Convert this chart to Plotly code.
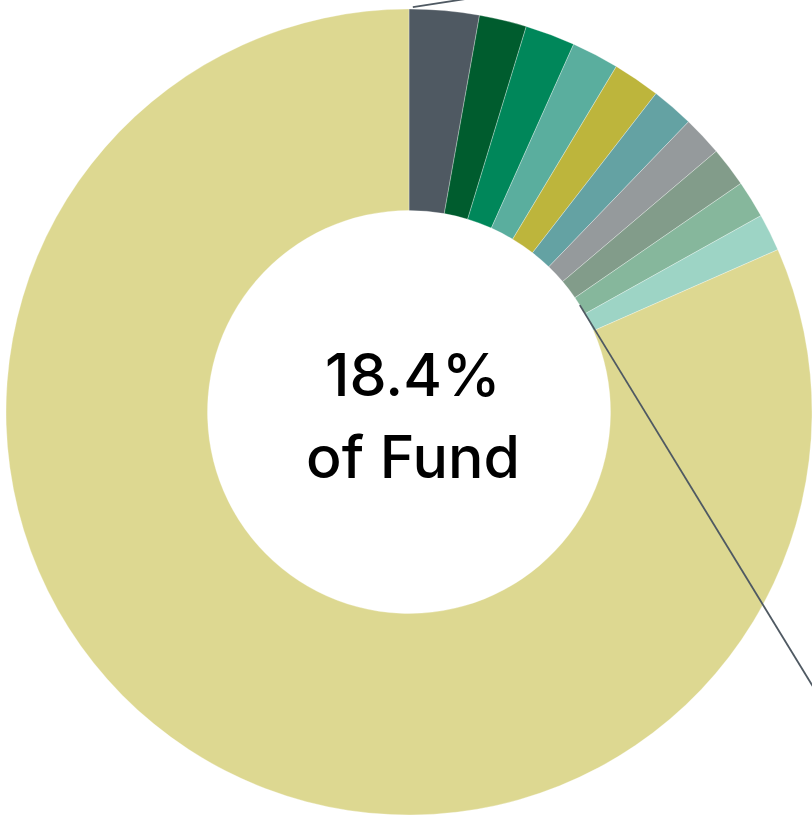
import math
import plotly.graph_objects as go

# Holdings share of the fund (percent); the last entry is the rest of the fund
labels = [
    "Holding 1", "Holding 2", "Holding 3", "Holding 4", "Holding 5",
    "Holding 6", "Holding 7", "Holding 8", "Holding 9", "Holding 10",
    "Rest of Fund",
]
values = [2.8, 1.9, 2.0, 1.9, 1.9, 1.7, 1.6, 1.6, 1.5, 1.5, 81.6]
colors = [
    "#4f5962", "#005c2e", "#00875a", "#5aae9e", "#bdb53c",
    "#64a2a3", "#959a9c", "#829c8a", "#86b79c", "#9dd4c5",
    "#ddd891",
]

center_line1 = "18.4%"
center_line2 = "of Fund"

W, H = 812, 816
R = 403            # outer radius in px
CX, CY = 409, 412  # donut centre in px (from top-left)
HOLE = 0.5

fig = go.Figure(
    go.Pie(
        labels=labels,
        values=values,
        marker=dict(colors=colors, line=dict(color="rgba(255,255,255,0.6)", width=0.5)),
        hole=HOLE,
        sort=False,
        direction="clockwise",
        rotation=0,
        textinfo="none",
        hoverinfo="label+percent",
        showlegend=False,
        domain=dict(
            x=[(CX - R) / W, (CX + R) / W],
            y=[1 - (CY + R) / H, 1 - (CY - R) / H],
        ),
    )
)


def to_paper(px, py):
    return px / W, 1 - py / H


def polar_px(frac, radius):
    a = 2 * math.pi * frac
    return CX + radius * math.sin(a), CY - radius * math.cos(a)


total = sum(values)
cum = [sum(values[:i]) / total for i in range(len(values) + 1)]

# Leader lines running off toward callouts
x0, y0 = polar_px(cum[0] + 0.0015, R + 2)
x1, y1 = x0 + 48 * 1.6, y0 - 7.3 * 1.6
x2, y2 = polar_px((cum[8] + cum[9]) / 2 - 0.0005, R * HOLE)
x3, y3 = x2 + (812 - 586.7) * 1.1, y2 + (678 - 309.3) * 1.1

for (ax, ay, bx, by) in [(x0, y0, x1, y1), (x2, y2, x3, y3)]:
    px0, py0 = to_paper(ax, ay)
    px1, py1 = to_paper(bx, by)
    fig.add_shape(
        type="line", xref="paper", yref="paper",
        x0=px0, y0=py0, x1=px1, y1=py1,
        line=dict(color="#4f5962", width=1.8),
    )

font = dict(family="Inter, sans-serif", size=59, color="#000000", weight=500)
fig.add_annotation(
    text=center_line1, x=(CX + 4) / W, y=1 - 375 / H, xref="paper", yref="paper",
    showarrow=False, font=font, xanchor="center", yanchor="middle",
)
fig.add_annotation(
    text=center_line2, x=(CX + 4) / W, y=1 - 456 / H, xref="paper", yref="paper",
    showarrow=False, font=font, xanchor="center", yanchor="middle",
)

fig.update_layout(
    width=W, height=H,
    margin=dict(l=0, r=0, t=0, b=0),
    paper_bgcolor="#ffffff",
    plot_bgcolor="#ffffff",
)

fig.write_html("out.html")
